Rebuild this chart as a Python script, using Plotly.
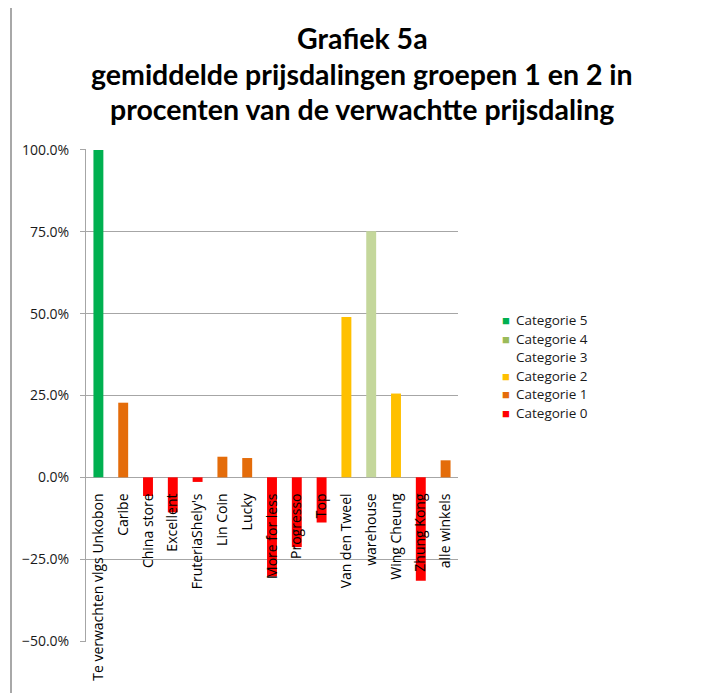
import plotly.graph_objects as go

# ---------------- data ----------------
categories = [
    "Te verwachten vlgs Unkobon", "Caribe", "China store", "Excellent",
    "FruteriaShely's", "Lin Coin", "Lucky", "More for less", "Progresso",
    "Top", "Van den Tweel", "warehouse", "Wing Cheung", "Zhung Kong",
    "alle winkels",
]
values = [1.000, 0.228, -0.057, -0.107, -0.014, 0.063, 0.059, -0.303,
          -0.213, -0.138, 0.490, 0.752, 0.256, -0.316, 0.052]
bar_category = [5, 1, 0, 0, 0, 1, 1, 0, 0, 0, 2, 4, 2, 0, 1]

series_ids = [5, 4, 3, 2, 1, 0]
series_names = ["Categorie 5", "Categorie 4", "Categorie 3",
                "Categorie 2", "Categorie 1", "Categorie 0"]
series_colors = ["#00B050", "#C4D79B", "#FFFFFF", "#FFC000", "#E46C0A", "#FF0000"]
legend_swatch = ["#00B050", "#9BBB59", None, "#FFC000", "#E46C0A", "#FF0000"]

y_ticks = [-0.5, -0.25, 0.0, 0.25, 0.5, 0.75, 1.0]
title_lines = ["Grafiek 5a",
               "gemiddelde prijsdalingen groepen 1 en 2 in",
               "procenten van de verwachtte prijsdaling"]

# ---------------- layout geometry (pixels, page coords) ----------------
OFF = 8  # page body margin
W, H = 715, 693
PL, PR, PT, PB = 86 - OFF, 458 - OFF, 149 - OFF, 642 - OFF
pw, ph = PR - PL, PB - PT


def px(x):
    return (x - OFF - PL) / pw


def py(y):
    return (PB - (y - OFF)) / ph


FONT = "Open Sans"

fig = go.Figure()
for sid, name, col in zip(series_ids, series_names, series_colors):
    ys = [v if c == sid else None for v, c in zip(values, bar_category)]
    fig.add_trace(go.Bar(x=categories, y=ys, name=name,
                         marker=dict(color=col, line=dict(width=0)),
                         showlegend=False))

annotations = []
# title
for line, yc in zip(title_lines, [38, 73.5, 109]):
    annotations.append(dict(text="<b>%s</b>" % line, x=px(362), y=py(yc),
                            xref="paper", yref="paper", showarrow=False,
                            xanchor="center", yanchor="middle",
                            font=dict(family="Lato", size=28.5, color="#000000")))
# legend
leg_y = [320, 338.5, 357, 375.5, 394, 412.5]
for name, sw, yc in zip(series_names, legend_swatch, leg_y):
    if sw is not None:
        annotations.append(dict(text="■", x=px(506), y=py(yc), xref="paper",
                                yref="paper", showarrow=False,
                                xanchor="center", yanchor="middle",
                                font=dict(family=FONT, size=13, color=sw)))
    annotations.append(dict(text=name, x=px(514), y=py(yc), xref="paper",
                            yref="paper", showarrow=False,
                            xanchor="left", yanchor="middle",
                            font=dict(family=FONT, size=13.5, color="#1a1a1a")))

fig.update_layout(
    width=W, height=H,
    margin=dict(l=PL, r=W - PR, t=PT, b=H - PB, pad=0, autoexpand=False),
    paper_bgcolor="white", plot_bgcolor="white",
    barmode="relative", bargap=0.6,
    showlegend=False,
    annotations=annotations,
    font=dict(family=FONT, size=13, color="#1a1a1a"),
    shapes=[dict(type="rect", xref="paper", yref="paper",
                 x0=px(11), x1=px(714), y0=py(720), y1=py(5),
                 line=dict(color="#8C8C8C", width=1.5),
                 fillcolor="rgba(0,0,0,0)", layer="below")],
)

fig.update_yaxes(
    range=[-0.503, 1.003], tickvals=y_ticks, tickformat=".1%",
    showgrid=True, gridcolor="#A6A6A6", gridwidth=1,
    showline=True, linecolor="#A6A6A6", linewidth=1,
    ticks="outside", ticklen=5, tickcolor="#A6A6A6",
    zeroline=False, ticklabelstandoff=8, automargin=False,
    tickfont=dict(family=FONT, size=14, color="#1a1a1a"),
)
fig.update_xaxes(
    type="category", anchor="free", position=1 / 3,
    range=[-0.5, len(categories) - 0.5],
    showline=False, showgrid=False, zeroline=False, ticks="",
    tickangle=-90, ticklabelstandoff=12, automargin=False,
    tickfont=dict(family=FONT, size=14, color="#000000"),
)

fig.write_html("out.html")
